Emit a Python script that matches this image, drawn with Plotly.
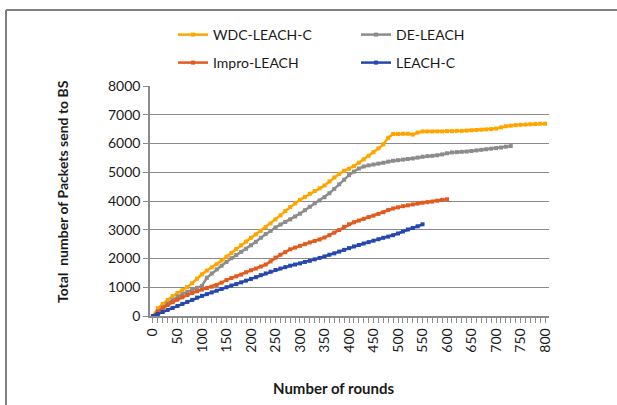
import plotly.graph_objects as go

rounds = list(range(0, 810, 10))

wdc_leach_c = [0, 270, 420, 560, 690, 800, 900, 1010, 1140, 1300, 1450, 1580, 1690, 1800, 1930, 2060,
               2190, 2330, 2460, 2590, 2720, 2840, 2960, 3090, 3220, 3360, 3500, 3650, 3790, 3920,
               4040, 4140, 4250, 4350, 4440, 4540, 4680, 4820, 4940, 5050, 5120, 5210, 5330, 5450,
               5570, 5700, 5830, 5970, 6200, 6330, 6330, 6340, 6340, 6310, 6380, 6420, 6420, 6420,
               6420, 6420, 6430, 6430, 6440, 6440, 6450, 6460, 6470, 6480, 6490, 6500, 6520, 6560,
               6600, 6620, 6640, 6650, 6660, 6670, 6680, 6690, 6690]

de_leach = [0, 160, 300, 430, 550, 670, 760, 840, 910, 980, 1050, 1330, 1480, 1620, 1750, 1880, 2010,
            2120, 2230, 2340, 2460, 2580, 2720, 2850, 2960, 3080, 3180, 3270, 3360, 3460, 3560, 3680,
            3800, 3920, 4020, 4130, 4270, 4420, 4580, 4740, 4900, 5020, 5130, 5200, 5240, 5270, 5300,
            5330, 5370, 5400, 5420, 5440, 5460, 5480, 5510, 5540, 5560, 5570, 5590, 5620, 5660, 5690,
            5700, 5710, 5720, 5740, 5760, 5780, 5800, 5820, 5840, 5860, 5890, 5910]

impro_leach = [0, 150, 270, 380, 480, 570, 650, 730, 800, 860, 920, 970, 1020, 1080, 1160, 1250, 1320,
               1380, 1440, 1520, 1590, 1650, 1720, 1790, 1900, 2030, 2130, 2220, 2320, 2380, 2440, 2500,
               2560, 2610, 2660, 2730, 2810, 2900, 2990, 3100, 3190, 3260, 3320, 3380, 3440, 3490, 3550,
               3610, 3690, 3740, 3780, 3820, 3850, 3880, 3910, 3940, 3960, 3980, 4010, 4040, 4060]

leach_c = [0, 70, 140, 210, 280, 350, 420, 490, 560, 640, 700, 760, 820, 880, 940, 1000, 1060, 1110,
           1170, 1230, 1290, 1350, 1420, 1480, 1540, 1600, 1650, 1700, 1750, 1790, 1830, 1880, 1920,
           1970, 2020, 2070, 2130, 2180, 2240, 2300, 2360, 2420, 2470, 2520, 2570, 2620, 2670, 2720,
           2760, 2810, 2870, 2940, 3010, 3060, 3120, 3190]

FONT = "Lato"
L, R, T, B = 150, 68, 86, 89
W, H = 617, 405
pw, ph = W - L - R, H - T - B


def px(xp):
    return (xp - L) / pw


def py(yp):
    return (H - B - yp) / ph


# name, values, colour, legend id, legend anchor (pixel x, pixel y)
series = [
    ("WDC-LEACH-C", wdc_leach_c, "#FFA500", "legend2", 173, 35),
    ("DE-LEACH", de_leach, "#8C8C8C", "legend3", 356, 35),
    ("Impro-LEACH", impro_leach, "#E35A1E", "legend4", 173, 63),
    ("LEACH-C", leach_c, "#2647AE", "legend5", 356, 63),
]

fig = go.Figure()
legends = {}
for name, vals, color, lg, lx, ly in series:
    fig.add_trace(go.Scatter(
        x=rounds[:len(vals)], y=vals, name=name, mode="lines+markers",
        line=dict(color=color, width=2.5),
        marker=dict(symbol="square", size=4, color=color),
        legend=lg,
    ))
    legends[lg] = dict(x=px(lx), y=py(ly), xanchor="left", yanchor="middle",
                       font=dict(family=FONT, size=14, color="#1a1a1a"),
                       bgcolor="rgba(0,0,0,0)", itemwidth=30)

grid = "#8A8A8A"
fig.update_layout(
    width=W, height=H,
    margin=dict(l=L, r=R, t=T, b=B, autoexpand=False),
    paper_bgcolor="white", plot_bgcolor="white",
    font=dict(family=FONT, size=14, color="#1a1a1a"),
    xaxis=dict(range=[-6, 808], tickmode="linear", tick0=0, dtick=50, tickangle=-90,
               showgrid=False, zeroline=False, showline=True, linecolor=grid, linewidth=1.5,
               ticks="outside", ticklen=5, tickcolor=grid,
               minor=dict(dtick=10, ticks="outside", ticklen=5, tickcolor=grid, showgrid=False),
               tickfont=dict(family=FONT, size=14)),
    yaxis=dict(range=[0, 8000], tickmode="linear", tick0=0, dtick=1000,
               showgrid=True, gridcolor=grid, gridwidth=1.2, zeroline=False,
               showline=True, linecolor=grid, linewidth=1.5,
               ticks="outside", ticklen=5, tickcolor=grid,
               tickfont=dict(family=FONT, size=14)),
    annotations=[
        dict(text="<b>Total  number of Packets send to BS</b>", xref="paper", yref="paper",
             x=px(62), y=py(192), textangle=-90, showarrow=False,
             font=dict(family=FONT, size=14), xanchor="center", yanchor="middle"),
        dict(text="<b>Number of rounds</b>", xref="paper", yref="paper",
             x=px(333), y=py(388), showarrow=False,
             font=dict(family=FONT, size=15), xanchor="center", yanchor="middle"),
    ],
    shapes=[
        dict(type="line", xref="paper", yref="paper", x0=px(6), x1=px(617), y0=py(10), y1=py(10),
             line=dict(color="#808080", width=2)),
        dict(type="line", xref="paper", yref="paper", x0=px(6), x1=px(6), y0=py(10), y1=py(405),
             line=dict(color="#808080", width=2)),
    ],
    showlegend=True,
    **legends,
)

fig.write_html("out.html",
               config={"displayModeBar": False},
               post_script="document.body.style.margin='0';document.body.style.overflow='hidden';")
